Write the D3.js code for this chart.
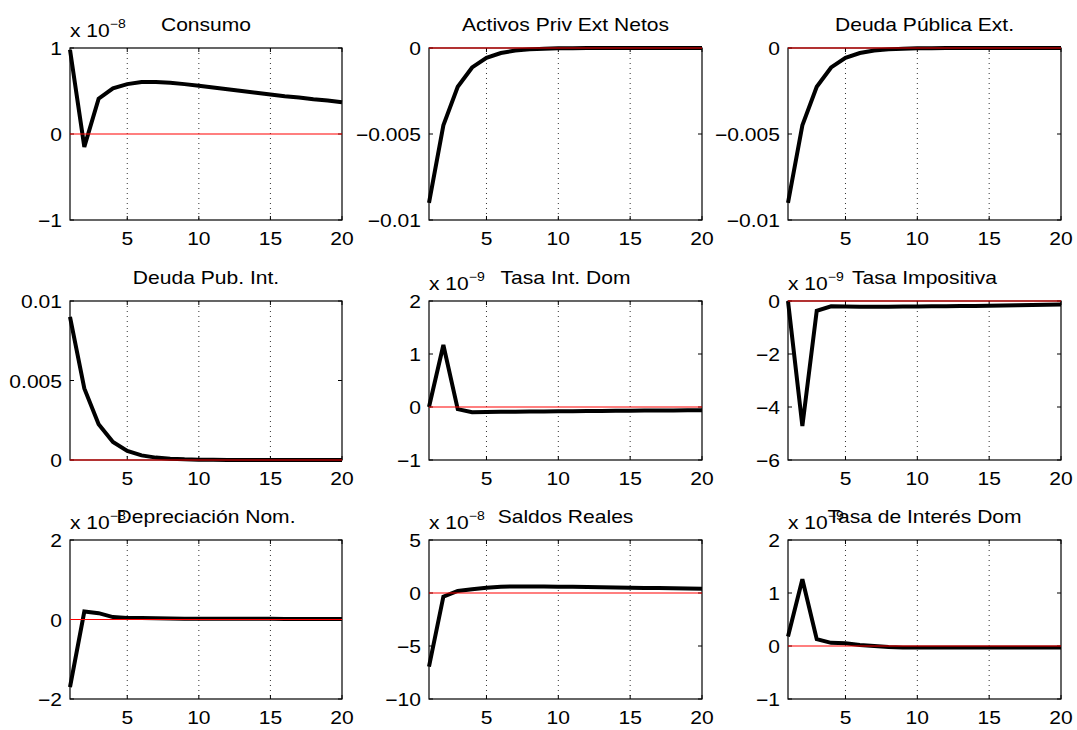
<!DOCTYPE html>
<html>
<head>
<meta charset="utf-8">
<script src="https://cdn.jsdelivr.net/npm/d3@7"></script>
<style>
  html, body { margin: 0; padding: 0; background: #fff; }
  svg text { font-family: "Liberation Sans", Arial, Helvetica, sans-serif; fill: #000; }
</style>
</head>
<body>
<svg id="chart" width="1077" height="730"></svg>
<script>
// Impulse responses, 20 periods
const horizon = [1,2,3,4,5,6,7,8,9,10,11,12,13,14,15,16,17,18,19,20];
const xTickValues = [5, 10, 15, 20];

const titles = ["Consumo", "Activos Priv Ext Netos", "Deuda Pública Ext.",
                "Deuda Pub. Int.", "Tasa Int. Dom", "Tasa Impositiva",
                "Depreciación Nom.", "Saldos Reales", "Tasa de Interés Dom"];

// axis multiplier exponent (null = no multiplier)
const exponents = [-8, null, null, null, -9, -9, -8, -8, -9];

const yDomains = [[-1, 1], [-0.01, 0], [-0.01, 0], [0, 0.01], [-1, 2], [-6, 0], [-2, 2], [-10, 5], [-1, 2]];
const yTickValues = [[-1, 0, 1], [-0.01, -0.005, 0], [-0.01, -0.005, 0], [0, 0.005, 0.01],
                     [-1, 0, 1, 2], [-6, -4, -2, 0], [-2, 0, 2], [-10, -5, 0, 5], [-1, 0, 1, 2]];

// series (already in units of the multiplier where one is shown)
const consumo = [0.98, -0.15, 0.41, 0.53, 0.58, 0.605, 0.605, 0.595, 0.58, 0.56,
                 0.54, 0.52, 0.50, 0.48, 0.46, 0.44, 0.425, 0.405, 0.39, 0.37];
const activosPrivExt = [-0.009, -0.0045, -0.00225, -0.00113, -0.00057, -0.00029, -0.00015, -0.00008, -0.00004, -0.00002,
                        -0.00001, -0.000005, -0.000003, -0.000002, -0.000001, 0, 0, 0, 0, 0];
const deudaPubExt = [-0.009, -0.0045, -0.00225, -0.00113, -0.00057, -0.00029, -0.00015, -0.00008, -0.00004, -0.00002,
                     -0.00001, -0.000005, -0.000003, -0.000002, -0.000001, 0, 0, 0, 0, 0];
const deudaPubInt = [0.009, 0.0045, 0.00225, 0.00113, 0.00057, 0.00029, 0.00015, 0.00008, 0.00004, 0.00002,
                     0.00001, 0.000005, 0.000003, 0.000002, 0.000001, 0, 0, 0, 0, 0];
const tasaIntDom = [0, 1.17, -0.04, -0.1, -0.095, -0.09, -0.088, -0.085, -0.083, -0.08,
                    -0.078, -0.076, -0.074, -0.072, -0.07, -0.068, -0.066, -0.064, -0.062, -0.06];
const tasaImpositiva = [0, -4.72, -0.37, -0.2, -0.21, -0.22, -0.22, -0.215, -0.21, -0.205,
                        -0.2, -0.195, -0.19, -0.185, -0.18, -0.17, -0.16, -0.15, -0.14, -0.13];
const depreciacionNom = [-1.7, 0.2, 0.16, 0.06, 0.04, 0.035, 0.03, 0.025, 0.022, 0.02,
                         0.02, 0.018, 0.018, 0.016, 0.016, 0.015, 0.015, 0.014, 0.014, 0.013];
const saldosReales = [-6.95, -0.35, 0.19, 0.35, 0.5, 0.6, 0.62, 0.62, 0.61, 0.6,
                      0.58, 0.56, 0.54, 0.52, 0.5, 0.48, 0.46, 0.44, 0.42, 0.4];
const tasaInteresDom = [0.18, 1.26, 0.13, 0.06, 0.05, 0.02, 0.0, -0.02, -0.03, -0.03,
                        -0.03, -0.03, -0.03, -0.03, -0.03, -0.03, -0.03, -0.03, -0.03, -0.03];

const series = [consumo, activosPrivExt, deudaPubExt, deudaPubInt, tasaIntDom,
                tasaImpositiva, depreciacionNom, saldosReales, tasaInteresDom];

// panel grid
const colX = [[70, 342], [429, 702], [788, 1061]];
const rowY = [[48, 220], [301, 460], [540, 699]];

const FS = 18;        // label font size
const SX = 1.17;      // horizontal glyph stretch
const TICK = 4;

const svg = d3.select("#chart");
svg.append("rect").attr("width", 1077).attr("height", 730).attr("fill", "#fff");

function fmt(v) {
  if (v === 0) return "0";
  const s = Math.abs(v).toString();
  return (v < 0 ? "\u2212" : "") + s;
}

function addText(g, x, y, str, anchor, size) {
  return g.append("text")
    .attr("transform", `translate(${x},${y}) scale(${SX},1)`)
    .attr("text-anchor", anchor)
    .style("font-size", size + "px")
    .text(str);
}

series.forEach((vals, i) => {
  const [x0, x1] = colX[i % 3];
  const [y0, y1] = rowY[Math.floor(i / 3)];
  const x = d3.scaleLinear().domain([1, 20]).range([x0, x1]);
  const y = d3.scaleLinear().domain(yDomains[i]).range([y1, y0]);
  const g = svg.append("g");

  // dotted vertical grid
  g.selectAll("line.grid").data(xTickValues.filter(t => t < 20)).join("line")
    .attr("x1", d => x(d)).attr("x2", d => x(d))
    .attr("y1", y0).attr("y2", y1)
    .attr("stroke", "#333").attr("stroke-width", 1)
    .attr("stroke-dasharray", "1,4");

  // ticks (inside, all four sides)
  xTickValues.forEach(t => {
    g.append("line").attr("x1", x(t)).attr("x2", x(t)).attr("y1", y1).attr("y2", y1 - TICK).attr("stroke", "#000");
    g.append("line").attr("x1", x(t)).attr("x2", x(t)).attr("y1", y0).attr("y2", y0 + TICK).attr("stroke", "#000");
    addText(g, x(t), y1 + 25, String(t), "middle", FS);
  });
  yTickValues[i].forEach(t => {
    g.append("line").attr("x1", x0).attr("x2", x0 + TICK).attr("y1", y(t)).attr("y2", y(t)).attr("stroke", "#000");
    g.append("line").attr("x1", x1).attr("x2", x1 - TICK).attr("y1", y(t)).attr("y2", y(t)).attr("stroke", "#000");
    addText(g, x0 - 8, y(t) + 7, fmt(t), "end", FS);
  });

  // box
  g.append("rect").attr("x", x0).attr("y", y0).attr("width", x1 - x0).attr("height", y1 - y0)
    .attr("fill", "none").attr("stroke", "#000").attr("stroke-width", 1.2);

  // response
  const line = d3.line().x((d, k) => x(horizon[k])).y(d => y(d));
  g.append("path").datum(vals).attr("d", line)
    .attr("fill", "none").attr("stroke", "#000").attr("stroke-width", 4)
    .attr("stroke-linejoin", "miter").attr("stroke-miterlimit", 3);

  // zero reference
  g.append("line").attr("x1", x(1)).attr("x2", x(20)).attr("y1", y(0)).attr("y2", y(0))
    .attr("stroke", "#ff0000").attr("stroke-width", 1.1);

  // multiplier
  if (exponents[i] !== null) {
    const t = g.append("text")
      .attr("transform", `translate(${x0},${y0 - 11}) scale(${SX},1)`)
      .style("font-size", FS + "px");
    t.append("tspan").text("x 10");
    t.append("tspan").attr("dy", -9).style("font-size", "12px").text("\u2212" + Math.abs(exponents[i]));
  }

  // title
  addText(g, (x0 + x1) / 2, y0 - 17, titles[i], "middle", FS);
});
</script>
</body>
</html>
